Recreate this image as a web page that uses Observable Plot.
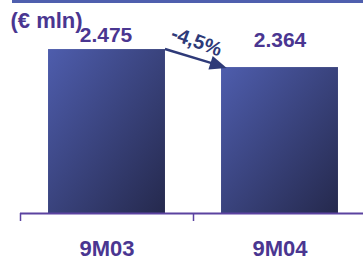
<!DOCTYPE html>
<html>
<head>
<meta charset="utf-8">
<script src="https://cdn.jsdelivr.net/npm/d3@7"></script>
<script src="https://cdn.jsdelivr.net/npm/@observablehq/plot@0.6"></script>
<style>
  html, body { margin: 0; padding: 0; background: #fff; }
  #wrap { position: relative; width: 363px; height: 262px; overflow: hidden; }
  #topbar { position: absolute; top: 0; left: 12px; width: 351px; height: 3px; background: #4f5fae; }
</style>
</head>
<body>
<div id="wrap"><div id="topbar"></div></div>
<script>
// ---- data ----
const categories = ["9M03", "9M04"];
const values = [2475, 2364];
const valueLabels = ["2.475", "2.364"];
const changeLabel = ["-4,5%"];
const unitLabel = ["(€ mln)"];

const data = categories.map((c, i) => ({i, category: c, value: values[i], label: valueLabels[i]}));

// ---- styling ----
const font = "'Liberation Sans', Arial, sans-serif";
const textColor = "#4a3691";
const axisColor = "#5b42a0";
const arrowColor = "#2e3a78";
const hw = 0.338;          // half bar width in x units
const base = 1464;         // axis baseline value

function changeArrow(index, scales) {
  const x = scales.x, y = scales.y;
  const sx = x(0 + hw), sy = y(values[0]);
  let ex = x(1 - hw), ey = y(values[1]);
  const len = Math.hypot(ex - sx, ey - sy);
  const ux = (ex - sx) / len, uy = (ey - sy) / len;
  ex += ux * 6; ey += uy * 3;
  const headLen = 17, headHalf = 7;
  const bx = ex - ux * headLen, by = ey - uy * headLen;
  const g = d3.create("svg:g");
  g.append("line")
    .attr("x1", sx).attr("y1", sy).attr("x2", bx + ux * 2).attr("y2", by + uy * 2)
    .attr("stroke", arrowColor).attr("stroke-width", 2.5);
  g.append("path")
    .attr("d", `M${ex},${ey}L${bx - uy * headHalf},${by + ux * headHalf}L${bx + uy * headHalf},${by - ux * headHalf}Z`)
    .attr("fill", arrowColor);
  return g.node();
}

const chart = Plot.plot({
  width: 363,
  height: 262,
  marginLeft: 20,
  marginRight: 0,
  marginTop: 0,
  marginBottom: 49,
  style: {background: "transparent", fontFamily: font, overflow: "visible"},
  x: {type: "linear", domain: [-0.5, 1.5], range: [20, 366], label: null},
  y: {domain: [base, 2777.5], axis: null, label: null},
  marks: [
    Plot.rectY(data, {x1: d => d.i - hw, x2: d => d.i + hw, y1: base, y2: "value", fill: "url(#barGrad)"}),
    Plot.ruleY([base], {stroke: axisColor, strokeWidth: 2}),
    Plot.axisX({ticks: [-0.5, 0.5, 1.5], tickSize: 8, tickFormat: () => "", label: null, stroke: axisColor, strokeWidth: 1.5}),
    Plot.axisX({ticks: [0, 1], tickSize: 0, tickPadding: 27, tickFormat: i => categories[i], label: null,
      fontSize: 22, fontWeight: "bold", fill: textColor, fontFamily: font}),
    Plot.text(data.filter(d => d.i === 0), {x: "i", y: "value", text: "label", dy: -8, dx: -1, lineAnchor: "bottom",
      fontSize: 21, fontWeight: "bold", fill: textColor, fontFamily: font}),
    Plot.text(data.filter(d => d.i === 1), {x: "i", y: "value", text: "label", dy: -21, lineAnchor: "bottom",
      fontSize: 21, fontWeight: "bold", fill: textColor, fontFamily: font}),
    Plot.text(changeLabel, {x: 0.5, y: (values[0] + values[1]) / 2, text: d => d, dx: 3, dy: -17, rotate: 20,
      fontSize: 20, fontWeight: "bold", fill: arrowColor, fontFamily: font}),
    Plot.text(unitLabel, {frameAnchor: "top-left", text: d => d, dx: -10, dy: 12, textAnchor: "start", lineAnchor: "top",
      fontSize: 22, fontWeight: "bold", fill: textColor, fontFamily: font}),
    changeArrow
  ]
});

// gradient definition for bars
const svg = d3.select(chart);
const defs = svg.insert("defs", ":first-child");
const grad = defs.append("linearGradient").attr("id", "barGrad")
  .attr("x1", 0).attr("y1", 0).attr("x2", 1).attr("y2", 1);
grad.append("stop").attr("offset", "0%").attr("stop-color", "#4e5dad");
grad.append("stop").attr("offset", "100%").attr("stop-color", "#25294d");

document.getElementById("wrap").appendChild(chart);
chart.style.position = "absolute";
chart.style.left = "0";
chart.style.top = "0";
</script>
</body>
</html>
